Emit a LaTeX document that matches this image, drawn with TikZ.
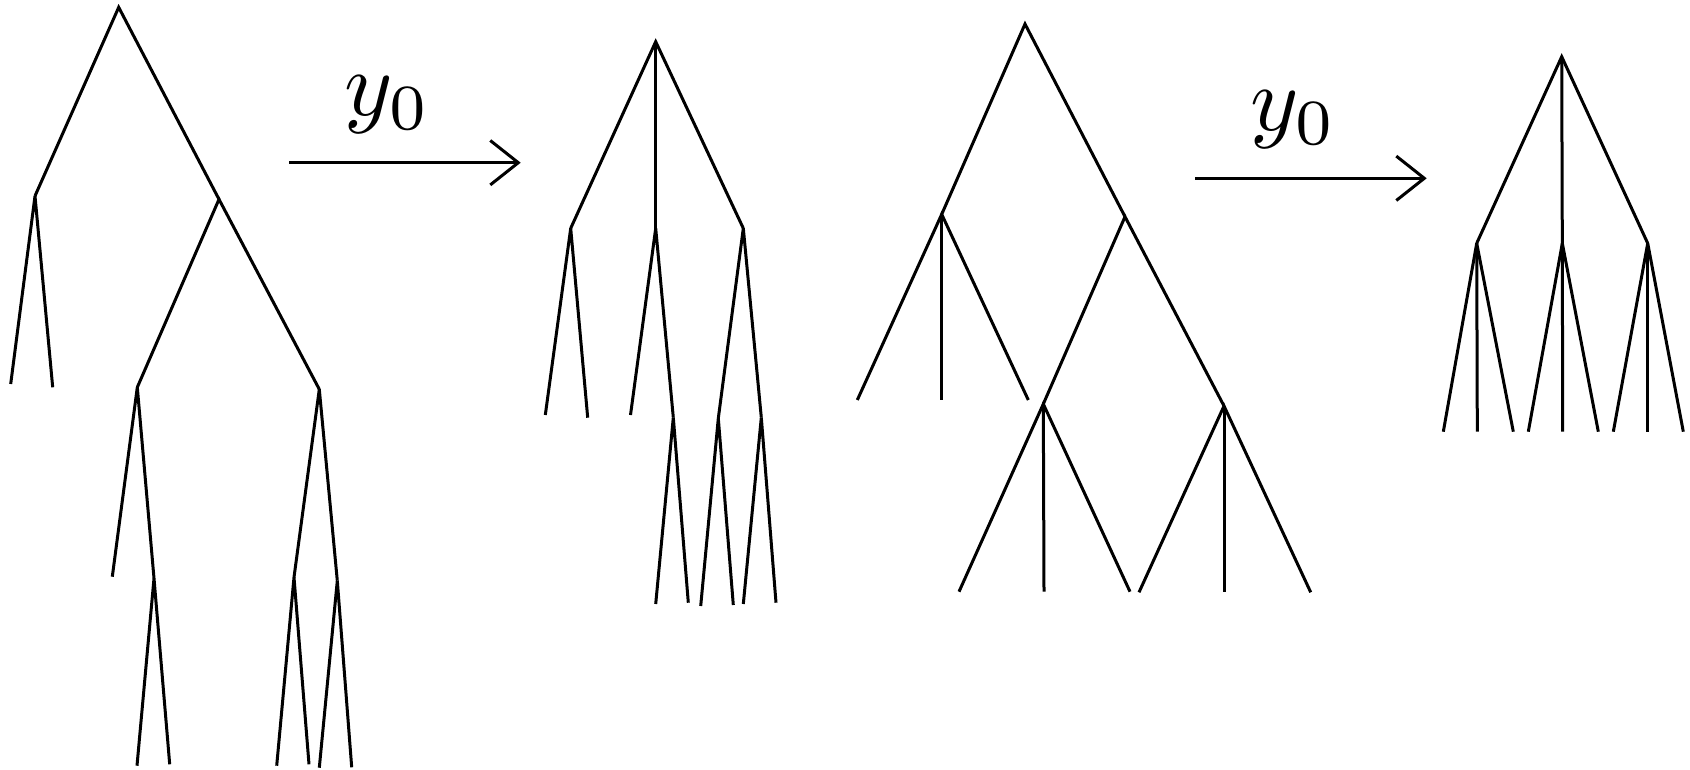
\documentclass[tikz,border=0pt]{standalone}
\usepackage{graphicx}
\usetikzlibrary{arrows.meta}
\tikzset{
  branch/.style={line width=1.5pt, miter limit=3},
  mapsto/.style={line width=1.5pt, -{Straight Barb[length=14pt, width=22.2pt, line width=1.5pt]}},
  maplabel/.style={inner sep=0pt}
}
\newcommand{\biglabel}[1]{\scalebox{4.6}{$#1$}}
\begin{document}
\begin{tikzpicture}[x=0.5pt, y=-0.5pt]
    \useasboundingbox (0,0) rectangle (1690,770);
    % first tree
    \coordinate (r1) at (118.7,7.3);
    \coordinate (a1) at (35,196);
    \coordinate (b1) at (219,199.3);
    \coordinate (a1x) at (10.7,384);
    \coordinate (a1y) at (52.7,387.3);
    \coordinate (c1) at (137.3,387.3);
    \coordinate (d1) at (319.3,389.3);
    \coordinate (c1x) at (112.3,576.7);
    \coordinate (e1) at (154,578.3);
    \coordinate (e1x) at (137,765.7);
    \coordinate (e1y) at (169.7,764.3);
    \coordinate (f1) at (294,577.3);
    \coordinate (g1) at (337.3,580.7);
    \coordinate (f1x) at (276.7,765.7);
    \coordinate (f1y) at (309,764.3);
    \coordinate (g1x) at (319.3,767.7);
    \coordinate (g1y) at (351.7,767.3);
    \draw[branch] (a1) -- (r1) -- (b1);
    \draw[branch] (a1x) -- (a1) -- (a1y);
    \draw[branch] (c1) -- (b1) -- (d1);
    \draw[branch] (c1x) -- (c1) -- (e1);
    \draw[branch] (e1x) -- (e1) -- (e1y);
    \draw[branch] (f1) -- (d1) -- (g1);
    \draw[branch] (f1x) -- (f1) -- (f1y);
    \draw[branch] (g1x) -- (g1) -- (g1y);
    % first arrow
    \coordinate (arrA) at (289,162.7);
    \coordinate (arrB) at (520.7,162.7);
    \draw[mapsto] (arrA) -- (arrB);
    \node[maplabel] (lab1) at (388,105) {\biglabel{y_0}};
    % second tree
    \coordinate (r2) at (655.7,41.7);
    \coordinate (l2) at (570.7,228.3);
    \coordinate (m2) at (655.7,228.3);
    \coordinate (q2) at (743.3,228.3);
    \coordinate (l2x) at (545.3,415);
    \coordinate (l2y) at (587.7,417.7);
    \coordinate (m2x) at (630.5,415);
    \coordinate (n2) at (673.3,417.5);
    \coordinate (n2x) at (655.7,604);
    \coordinate (n2y) at (688.3,602.7);
    \coordinate (o2) at (718.3,418.3);
    \coordinate (p2) at (761.3,417.5);
    \coordinate (o2x) at (700.7,606);
    \coordinate (o2y) at (733.3,605);
    \coordinate (p2x) at (743.3,604);
    \coordinate (p2y) at (776,602.7);
    \draw[branch] (l2) -- (r2) -- (q2);
    \draw[branch] (r2) -- (m2);
    \draw[branch] (l2x) -- (l2) -- (l2y);
    \draw[branch] (m2x) -- (m2) -- (n2);
    \draw[branch] (n2x) -- (n2) -- (n2y);
    \draw[branch] (o2) -- (q2) -- (p2);
    \draw[branch] (o2x) -- (o2) -- (o2y);
    \draw[branch] (p2x) -- (p2) -- (p2y);
    % third tree
    \coordinate (r3) at (1025,24);
    \coordinate (a3) at (941.7,214.3);
    \coordinate (b3) at (1125,216.7);
    \coordinate (a3x) at (857.3,400);
    \coordinate (a3y) at (941.7,400);
    \coordinate (a3z) at (1028.3,400);
    \coordinate (c3) at (1043.3,404);
    \coordinate (d3) at (1224,406);
    \coordinate (c3x) at (959,591.7);
    \coordinate (c3y) at (1044,591.7);
    \coordinate (c3z) at (1130,591.7);
    \coordinate (d3x) at (1139,592.3);
    \coordinate (d3y) at (1224,592.3);
    \coordinate (d3z) at (1310.7,592.3);
    \draw[branch] (a3) -- (r3) -- (b3);
    \draw[branch] (a3x) -- (a3) -- (a3z);
    \draw[branch] (a3) -- (a3y);
    \draw[branch] (c3) -- (b3) -- (d3);
    \draw[branch] (c3x) -- (c3) -- (c3z);
    \draw[branch] (c3) -- (c3y);
    \draw[branch] (d3x) -- (d3) -- (d3z);
    \draw[branch] (d3) -- (d3y);
    % second arrow
    \coordinate (arrC) at (1195,178.3);
    \coordinate (arrD) at (1426.7,178.3);
    \draw[mapsto] (arrC) -- (arrD);
    \node[maplabel] (lab2) at (1294,120) {\biglabel{y_0}};
    % fourth tree
    \coordinate (r4) at (1561.7,56.7);
    \coordinate (l4) at (1476.7,243.3);
    \coordinate (m4) at (1562.3,243.3);
    \coordinate (q4) at (1647.7,243.3);
    \draw[branch] (l4) -- (r4) -- (q4);
    \draw[branch] (r4) -- (m4);
    \foreach \n/\x in {l4/1443.3, l4/1477.3, l4/1513.3, m4/1528.3, m4/1562.7, m4/1598.3, q4/1613.3, q4/1647.7, q4/1683.3} {
        \coordinate (leaf) at (\x,431.7);
        \draw[branch] (\n) -- (leaf);
    }
\end{tikzpicture}
\end{document}
